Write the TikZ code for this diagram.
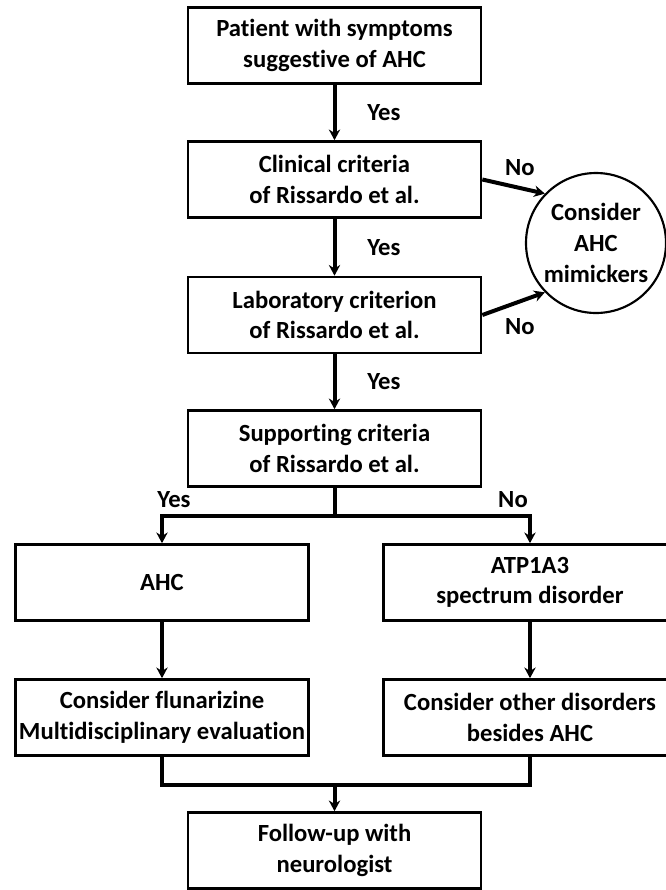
\documentclass[tikz,border=0pt]{standalone}
\usepackage{fontspec}
\setmainfont[Ligatures=NoCommon]{Carlito}
\usetikzlibrary{arrows.meta}
\begin{document}
\begin{tikzpicture}[x=0.75pt,y=-0.75pt,font=\bfseries\fontsize{18.5}{23}\selectfont,
  box/.style={draw,line width=2pt,minimum width=219.75pt,minimum height=57pt,align=center,inner sep=0pt},
  flow/.style={line width=3pt,-{Stealth[length=8pt,width=8.5pt]}},
  lbl/.style={inner sep=0pt}]
\useasboundingbox (0,0) rectangle (665,890);
\node[box] (pat) at (334.5,45.5) {Patient with symptoms\\suggestive of AHC};
\node[box] (clin) at (334.5,179.5) {Clinical criteria\\of Rissardo et al.};
\node[box] (lab) at (334.5,315) {Laboratory criterion\\of Rissardo et al.};
\node[box] (sup) at (334.5,448.5) {Supporting criteria\\of Rissardo et al.};
\node[circle,draw,line width=1.6pt,minimum size=105pt,align=center,inner sep=0pt] (mim) at (596,243) {Consider\\AHC\\mimickers};
\node[box] (ahc) at (162,582.5) {AHC};
\node[box] (atp) at (530,582.5) {ATP1A3\\spectrum disorder};
\node[box] (flu) at (162,717.5) {Consider flunarizine\\Multidisciplinary evaluation};
\node[box] (oth) at (530,717.5) {Consider other disorders\\besides AHC};
\node[box] (fol) at (334.5,850.5) {Follow-up with\\neurologist};
\coordinate (split) at (334.5,516);
\coordinate (merge) at (334.5,785);
\draw[flow] (pat) -- node[lbl,midway,xshift=37pt]{Yes} (clin);
\draw[flow] (clin) -- node[lbl,midway,xshift=37pt]{Yes} (lab);
\draw[flow] (lab) -- node[lbl,midway,xshift=37pt]{Yes} (sup);
\draw[flow] (clin.east) -- node[lbl,pos=0.6,yshift=15pt]{No} (mim.136);
\draw[flow] (lab.east) -- node[lbl,pos=0.6,yshift=-19pt]{No} (mim.224);
\draw[line width=3pt] (sup) -- (split);
\draw[flow] (split) -| node[lbl,pos=0.5,xshift=9pt,yshift=12pt]{Yes} (ahc);
\draw[flow] (split) -| node[lbl,pos=0.5,xshift=-12.75pt,yshift=12pt]{No} (atp);
\draw[flow] (ahc) -- (flu);
\draw[flow] (atp) -- (oth);
\draw[line width=3pt] (flu) |- (merge) -| (oth);
\draw[flow] (merge) -- (fol);
\end{tikzpicture}
\end{document}
